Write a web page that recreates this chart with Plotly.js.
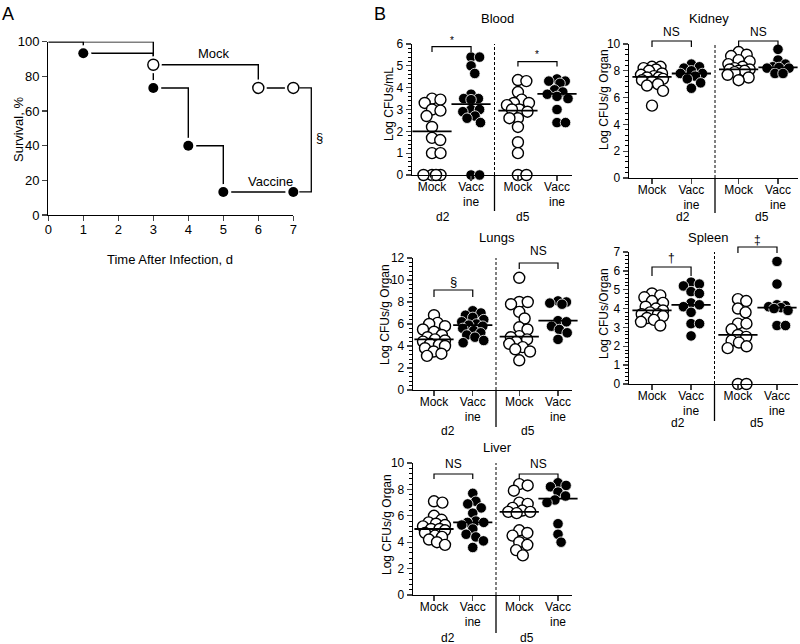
<!DOCTYPE html>
<html><head><meta charset="utf-8">
<script src="https://cdn.plot.ly/plotly-3.0.1.min.js"></script>
<style>html,body{margin:0;padding:0;background:#fff}</style>
</head><body><div id="chart" style="width:800px;height:644px"></div>
<script>
// ---------- Panel A data ----------
const dayTicks = [0,1,2,3,4,5,6,7];
const survivalTicks = [0,20,40,60,80,100];
const mockDays = [0,3,6,7];
const mockSurvival = [100,86.7,73.3,73.3];
const vaccineDays = [0,1,3,4,5,7];
const vaccineSurvival = [100,93.3,73.3,40,13.3,13.3];

// ---------- Panel B data ----------
const groupLabels = ['Mock','Vacc<br>ine','Mock','Vacc<br>ine'];
const dayLabels = ['d2','d5'];

const bloodMockD2 = [3.5,3.45,3.3,3.0,2.95,2.7,2.2,1.7,1.6,1.0,1.0,0,0,0,0];
const bloodVaccD2 = [5.4,5.4,5.0,4.65,3.7,3.5,3.5,3.45,3.0,2.9,3.0,2.7,2.6,2.4,0,0];
const bloodMockD5 = [4.35,4.3,3.8,3.45,3.3,3.3,3.2,3.0,3.0,2.9,2.6,2.6,2.2,1.5,1.0,0,0];
const bloodVaccD5 = [4.4,4.3,4.3,4.2,3.9,3.8,3.7,3.6,3.5,3.0,2.4,2.4];
const bloodMedians = [2.0,3.25,2.95,3.72];

const kidneyMockD2 = [8.3,8.3,8.2,8.1,8.0,7.8,7.7,7.6,7.5,7.5,7.4,7.3,7.2,7.0,6.9,6.5,5.4];
const kidneyVaccD2 = [8.5,8.3,8.2,8.0,7.8,7.8,7.6,7.4,7.1,6.7];
const kidneyMockD5 = [9.4,9.2,9.1,8.8,8.7,8.5,8.3,8.2,8.1,8.1,8.0,8.0,7.9,7.7,7.5,7.3];
const kidneyVaccD5 = [9.6,8.8,8.5,8.3,8.25,8.2,8.2,7.8,7.8];
const kidneyMedians = [7.55,7.8,8.1,8.25];

const lungsMockD2 = [6.8,6.1,6.0,5.8,5.5,5.3,5.0,4.8,4.6,4.5,4.4,4.2,4.1,4.0,3.8,3.5,3.3,3.1];
const lungsVaccD2 = [7.2,7.0,6.8,6.6,6.4,6.2,6.0,5.9,5.8,5.6,5.4,5.2,5.0,4.8,4.5,4.3];
const lungsMockD5 = [10.2,8.0,8.0,7.8,7.1,6.5,5.7,5.5,4.9,4.8,4.6,4.4,4.2,3.9,3.7,3.5,2.7];
const lungsVaccD5 = [8.1,8.0,7.9,7.8,6.3,6.2,5.8,5.5,5.2,4.6];
const lungsMedians = [4.6,5.9,4.85,6.3];

const spleenMockD2 = [4.8,4.7,4.6,4.4,4.3,4.1,4.0,3.9,3.8,3.7,3.7,3.6,3.5,3.4,3.3,3.1];
const spleenVaccD2 = [5.4,5.3,5.2,4.9,4.8,4.3,4.2,4.1,3.8,3.2,3.2,2.55];
const spleenMockD5 = [4.5,4.4,4.0,3.8,3.2,3.2,2.9,2.6,2.5,2.3,2.2,2.0,1.9,0,0];
const spleenVaccD5 = [6.5,5.3,4.2,4.15,4.1,4.05,4.0,3.9,3.1,3.1];
const spleenMedians = [3.9,4.2,2.6,4.05];

const liverMockD2 = [7.1,7.0,6.0,5.7,5.5,5.4,5.3,5.2,5.0,5.0,4.9,4.7,4.5,4.4,4.2,4.0,3.8];
const liverVaccD2 = [7.7,7.1,6.9,6.6,6.2,5.6,5.5,5.5,5.3,5.0,4.6,4.4,4.1,3.6];
const liverMockD5 = [8.4,8.3,7.9,7.0,6.9,6.6,6.4,6.3,6.3,6.2,4.9,4.7,4.5,4.0,3.8,3.4,3.0];
const liverVaccD5 = [8.5,8.3,8.2,7.8,7.5,7.2,7.0,5.4,4.6,4.0];
const liverMedians = [5.0,5.5,6.3,7.3];

// ---------- helpers / layout ----------
const W = 800, H = 644;
const FONT = 'Liberation Sans, Arial, Helvetica, sans-serif';
const px = x => x / W;
const py = y => 1 - y / H;
const groupPos = [1, 2, 3.2, 4.2];
const sepPos = 2.6;

const traces = [];
const annotations = [];
const shapes = [];
const layout = {
  width: W, height: H, autosize: false, showlegend: false,
  margin: {l:0, r:0, t:0, b:0},
  paper_bgcolor: 'white', plot_bgcolor: 'rgba(0,0,0,0)',
  font: {family: FONT, color: 'black', size: 12},
  annotations, shapes
};
function ann(text, x, y, size, extra) {
  annotations.push(Object.assign({text, x: px(x), y: py(y), xref:'paper', yref:'paper',
    showarrow:false, xanchor:'center', yanchor:'middle', font:{family:FONT, size, color:'black'}}, extra||{}));
}
function paperPath(pts) {
  return 'M ' + pts.map(p => px(p[0]).toFixed(5) + ',' + py(p[1]).toFixed(5)).join(' L ');
}

// ---------- Panel A ----------
const A = {L:48.3, R:293.3, top:41.7, bot:215};
const axPx = d => A.L + (A.R - A.L) * d / 7;
const ayPx = s => A.bot - (A.bot - A.top) * s / 100;
layout.xaxis = {domain:[px(A.L), px(A.R)], range:[0,7], anchor:'y', tickvals: dayTicks,
  ticks:'outside', ticklen:5, tickwidth:1.3, showline:true, linewidth:1.3, linecolor:'black',
  showgrid:false, zeroline:false, tickfont:{size:13}, ticklabelstandoff:-3};
layout.yaxis = {domain:[py(A.bot), py(A.top)], range:[0,100], anchor:'x', tickvals: survivalTicks,
  ticks:'outside', ticklen:5, tickwidth:1.3, showline:true, linewidth:1.3, linecolor:'black',
  showgrid:false, zeroline:false, tickfont:{size:13}};
const lineA = {color:'black', width:1.4, shape:'hv'};
traces.push({x: mockDays, y: mockSurvival, mode:'lines', line: lineA, xaxis:'x', yaxis:'y', hoverinfo:'skip'});
traces.push({x: vaccineDays, y: vaccineSurvival, mode:'lines', line: lineA, xaxis:'x', yaxis:'y', hoverinfo:'skip'});
traces.push({x: mockDays.slice(1), y: mockSurvival.slice(1), mode:'markers', cliponaxis:false,
  marker:{size:17, color:'white'}, xaxis:'x', yaxis:'y'});
traces.push({x: vaccineDays.slice(1), y: vaccineSurvival.slice(1), mode:'markers', cliponaxis:false,
  marker:{size:16, color:'white'}, xaxis:'x', yaxis:'y'});
traces.push({x: mockDays.slice(1), y: mockSurvival.slice(1), mode:'markers', cliponaxis:false,
  marker:{size:11, color:'white', line:{color:'black', width:1.4}}, xaxis:'x', yaxis:'y'});
traces.push({x: vaccineDays.slice(1), y: vaccineSurvival.slice(1), mode:'markers', cliponaxis:false,
  marker:{size:10, color:'black'}, xaxis:'x', yaxis:'y'});
// significance bracket between final survival values
{
  const yM = ayPx(mockSurvival[mockSurvival.length-1]), yV = ayPx(vaccineSurvival[vaccineSurvival.length-1]);
  const x0 = axPx(7) + 6, x1 = axPx(7) + 18;
  shapes.push({type:'path', xref:'paper', yref:'paper', line:{color:'black', width:1.3},
    path: paperPath([[x0,yM],[x1,yM],[x1,yV],[x0,yV]])});
  ann('§', x1 + 8, (yM + yV)/2 - 2, 13);
}
ann('Mock', 214, 53, 13);
ann('Vaccine', 270, 182, 13);
ann('Survival, %', 18, 130, 13, {textangle:-90});
ann('Time After Infection, d', 170, 259, 13);
ann('A', 8, 14, 18);
ann('B', 380, 14, 18);

// ---------- Panel B ----------
// deterministic beeswarm: offsets (px) that avoid overlap, limited to +-M px
function swarm(values, xs, ys, D, M) {
  const order = values.map((v,i)=>i).sort((a,b)=>values[b]-values[a]);
  const placed = [];
  const off = new Array(values.length);
  for (const i of order) {
    const y = values[i]*ys;
    let cands = [0];
    for (const p of placed) {
      const dy = Math.abs(p.y - y);
      if (dy < D) { const dx = Math.sqrt(D*D - dy*dy); cands.push(p.x+dx+0.01, p.x-dx-0.01); }
    }
    for (let g = -M; g <= M; g += 1) cands.push(g);
    cands = cands.filter(c => Math.abs(c) <= M + 1e-9);
    cands.sort((a,b)=>Math.abs(a)-Math.abs(b) || b-a);
    const minDist = c => placed.reduce((m,p)=>Math.min(m, Math.hypot(p.x-c, p.y-y)), Infinity);
    let chosen = null;
    for (const c of cands) { if (minDist(c) >= D - 0.02) { chosen = c; break; } }
    if (chosen === null) {
      let best = -1;
      for (const c of cands) { const d = minDist(c); if (d > best + 0.3) { best = d; chosen = c; } }
    }
    placed.push({x:chosen, y});
    off[i] = chosen / xs;
  }
  return off;
}

const panels = [
  {title:'Blood', t:[497,18.5], ytitle:'Log CFUs/mL', yt:[389,104], n:2, L:412, R:572, c1:432, c4:557, top:44, bot:175, ymax:6, dtick:1, minor:0.2,
   sepBot:211, d2:[443,217], d5:[523,217], groups:[bloodMockD2,bloodVaccD2,bloodMockD5,bloodVaccD5], med:bloodMedians,
   br:[{g:[0,1], y:46.7, d:52, text:'*', ty:40, s:10}, {g:[2,3], y:61.7, d:66.5, text:'*', ty:55, s:10}]},
  {title:'Kidney', t:[709,19], ytitle:'Log CFUs/g Organ', yt:[604,100], n:3, L:629, R:798, c1:652, c4:778, top:44, bot:178, ymax:10, dtick:2, minor:0.4,
   sepBot:213, d2:[683,217], d5:[762,217], groups:[kidneyMockD2,kidneyVaccD2,kidneyMockD5,kidneyVaccD5], med:kidneyMedians,
   br:[{g:[0,1], y:41, d:47, text:'NS', ty:32, s:12}, {g:[2,3], y:41, d:47, text:'NS', ty:32, s:12}]},
  {title:'Lungs', t:[497,238], ytitle:'Log CFUs/g Organ', yt:[385,315], n:4, L:413, R:572, c1:434, c4:558, top:258, bot:390, ymax:12, dtick:2, minor:0.4,
   sepBot:427, d2:[448,431], d5:[528,431], groups:[lungsMockD2,lungsVaccD2,lungsMockD5,lungsVaccD5], med:lungsMedians,
   br:[{g:[0,1], y:290, d:297, text:'§', ty:281, s:13}, {g:[2,3], y:263, d:269, text:'NS', ty:251, s:12}]},
  {title:'Spleen', t:[708,238], ytitle:'Log CFUs/Organ', yt:[604,314], n:5, L:629, R:798, c1:652, c4:777, top:252, bot:384, ymax:7, dtick:1, minor:0.2,
   sepBot:421, d2:[678,423], d5:[757,423], groups:[spleenMockD2,spleenVaccD2,spleenMockD5,spleenVaccD5], med:spleenMedians,
   br:[{g:[0,1], y:267, d:276, text:'†', ty:258, s:12}, {g:[2,3], y:247, d:253, text:'‡', ty:240, s:12}]},
  {title:'Liver', t:[497,447], ytitle:'Log CFUs/g Organ', yt:[387,525], n:6, L:413, R:572, c1:434, c4:558, top:463, bot:595, ymax:10, dtick:2, minor:0.4,
   sepBot:633, d2:[448,638], d5:[527,638], groups:[liverMockD2,liverVaccD2,liverMockD5,liverVaccD5], med:liverMedians,
   br:[{g:[0,1], y:474, d:479, text:'NS', ty:464, s:12}, {g:[2,3], y:474, d:479, text:'NS', ty:464, s:12}]}
];

panels.forEach(p => {
  const xa = 'x'+p.n, ya = 'y'+p.n;
  const scale = (p.c4 - p.c1) / (groupPos[3] - groupPos[0]);
  const xPx = v => p.c1 + (v - groupPos[0]) * scale;
  const xr = [groupPos[0] - (p.c1 - p.L)/scale, groupPos[0] + (p.R - p.c1)/scale];
  const yscale = (p.bot - p.top) / p.ymax;
  layout['xaxis'+p.n] = {domain:[px(p.L), px(p.R)], range: xr, anchor: ya, tickvals: groupPos, ticktext: groupLabels,
    ticks:'outside', ticklen:5, tickwidth:1.3, showline:true, linewidth:1.3, linecolor:'black',
    showgrid:false, zeroline:false, tickfont:{size:12}, tickangle:0, ticklabelstandoff:-5};
  const yt = []; for (let v = 0; v <= p.ymax + 1e-9; v += p.dtick) yt.push(v);
  layout['yaxis'+p.n] = {domain:[py(p.bot), py(p.top)], range:[0, p.ymax], anchor: xa, tickvals: yt,
    ticks:'outside', ticklen:5, tickwidth:1.3, showline:true, linewidth:1.3, linecolor:'black',
    showgrid:false, zeroline:false, tickfont:{size:12},
    minor:{ticks:'outside', ticklen:2.5, tickwidth:1, dtick:p.minor, tickcolor:'black', showgrid:false}};
  // separator: dashed inside plot, solid below axis
  const sx = px(xPx(sepPos));
  shapes.push({type:'line', xref:'paper', yref:'paper', x0:sx, x1:sx, y0:py(p.bot), y1:py(p.top), line:{color:'black', width:1, dash:'3px,2px'}});
  shapes.push({type:'line', xref:'paper', yref:'paper', x0:sx, x1:sx, y0:py(p.bot), y1:py(p.sepBot), line:{color:'black', width:1.3}});
  // points
  p.groups.forEach((vals, gi) => {
    const isMock = gi % 2 === 0;
    const off = swarm(vals, scale, yscale, 8.5, 11);
    traces.push({x: vals.map((v,i)=>groupPos[gi] + off[i]), y: vals, mode:'markers', cliponaxis:false,
      xaxis: xa, yaxis: ya, hoverinfo:'skip',
      marker: isMock ? {size:11, color:'white', line:{color:'black', width:1.4}}
                     : {size:10.5, color:'black', line:{color:'white', width:0.8}}});
  });
  traces.push({x: groupPos, y: p.med, mode:'markers', cliponaxis:false, xaxis: xa, yaxis: ya, hoverinfo:'skip',
    marker:{symbol:'line-ew', size:28, color:'black', line:{color:'black', width:1.8}}});
  // brackets
  p.br.forEach(b => {
    const x0 = xPx(groupPos[b.g[0]]), x1 = xPx(groupPos[b.g[1]]);
    shapes.push({type:'path', xref:'paper', yref:'paper', line:{color:'black', width:1.2},
      path: paperPath([[x0,b.d],[x0,b.y],[x1,b.y],[x1,b.d]])});
    ann(b.text, (x0+x1)/2, b.ty, b.s);
  });
  ann(p.title, p.t[0], p.t[1], 13);
  ann(p.ytitle, p.yt[0], p.yt[1], 12, {textangle:-90});
  ann(dayLabels[0], p.d2[0], p.d2[1], 12);
  ann(dayLabels[1], p.d5[0], p.d5[1], 12);
});

Plotly.newPlot('chart', traces, layout, {staticPlot:true, displayModeBar:false});
</script>
</body></html>
